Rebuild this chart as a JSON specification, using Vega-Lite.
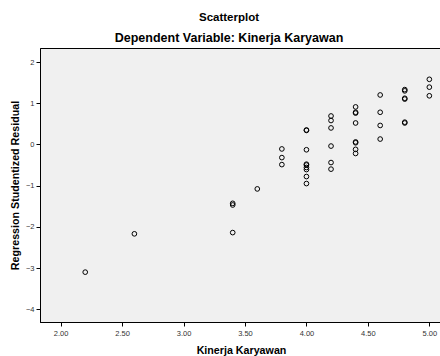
{
  "$schema": "https://vega.github.io/schema/vega-lite/v6.json",
  "width": 402,
  "height": 274,
  "autosize": "none",
  "padding": {"left": 40, "top": 48, "right": 0, "bottom": 34},
  "background": "white",
  "title": {
    "text": "Scatterplot",
    "subtitle": "Dependent Variable: Kinerja Karyawan",
    "font": "Liberation Sans",
    "fontSize": 11.5,
    "fontWeight": "bold",
    "color": "black",
    "subtitleFont": "Liberation Sans",
    "subtitleFontSize": 12.5,
    "subtitleFontWeight": "bold",
    "subtitleColor": "black",
    "subtitlePadding": 8,
    "offset": 4,
    "anchor": "middle",
    "dx": -12
  },
  "config": {
    "view": {"fill": "#f0f0f0", "stroke": "black", "strokeWidth": 1},
    "axis": {
      "grid": false,
      "domainColor": "black",
      "tickColor": "black",
      "tickSize": 4,
      "labelFont": "Liberation Sans",
      "labelFontSize": 7.5,
      "labelColor": "#333333",
      "labelPadding": 2,
      "titleFont": "Liberation Sans",
      "titleFontSize": 10.7,
      "titleFontWeight": "bold",
      "titleColor": "black"
    }
  },
  "data": {
    "values": [
      {"x": 2.2, "y": -3.10},
      {"x": 2.6, "y": -2.17},
      {"x": 3.4, "y": -1.43},
      {"x": 3.4, "y": -1.47},
      {"x": 3.4, "y": -2.14},
      {"x": 3.6, "y": -1.08},
      {"x": 3.8, "y": -0.11},
      {"x": 3.8, "y": -0.32},
      {"x": 3.8, "y": -0.49},
      {"x": 4.0, "y": 0.35},
      {"x": 4.0, "y": 0.34},
      {"x": 4.0, "y": -0.13},
      {"x": 4.0, "y": -0.48},
      {"x": 4.0, "y": -0.50},
      {"x": 4.0, "y": -0.56},
      {"x": 4.0, "y": -0.61},
      {"x": 4.0, "y": -0.78},
      {"x": 4.0, "y": -0.95},
      {"x": 4.2, "y": 0.69},
      {"x": 4.2, "y": 0.58},
      {"x": 4.2, "y": 0.40},
      {"x": 4.2, "y": -0.04},
      {"x": 4.2, "y": -0.44},
      {"x": 4.2, "y": -0.60},
      {"x": 4.4, "y": 0.91},
      {"x": 4.4, "y": 0.78},
      {"x": 4.4, "y": 0.76},
      {"x": 4.4, "y": 0.52},
      {"x": 4.4, "y": 0.06},
      {"x": 4.4, "y": 0.04},
      {"x": 4.4, "y": -0.12},
      {"x": 4.4, "y": -0.22},
      {"x": 4.6, "y": 1.20},
      {"x": 4.6, "y": 0.78},
      {"x": 4.6, "y": 0.46},
      {"x": 4.6, "y": 0.13},
      {"x": 4.8, "y": 1.33},
      {"x": 4.8, "y": 1.30},
      {"x": 4.8, "y": 1.12},
      {"x": 4.8, "y": 1.10},
      {"x": 4.8, "y": 0.54},
      {"x": 4.8, "y": 0.52},
      {"x": 5.0, "y": 1.58},
      {"x": 5.0, "y": 1.39},
      {"x": 5.0, "y": 1.18}
    ]
  },
  "mark": {"type": "point", "shape": "circle", "filled": false, "stroke": "black", "strokeWidth": 1, "size": 22, "opacity": 1},
  "encoding": {
    "x": {
      "field": "x",
      "type": "quantitative",
      "scale": {"domain": [1.832, 5.103], "nice": false, "zero": false},
      "axis": {"title": "Kinerja Karyawan", "values": [2, 2.5, 3, 3.5, 4, 4.5, 5], "format": ".2f", "labelPadding": 3, "titlePadding": 9}
    },
    "y": {
      "field": "y",
      "type": "quantitative",
      "scale": {"domain": [-4.31, 2.34], "nice": false, "zero": false},
      "axis": {"title": "Regression Studentized Residual", "values": [-4, -3, -2, -1, 0, 1, 2], "format": "d", "titlePadding": 5}
    }
  }
}
